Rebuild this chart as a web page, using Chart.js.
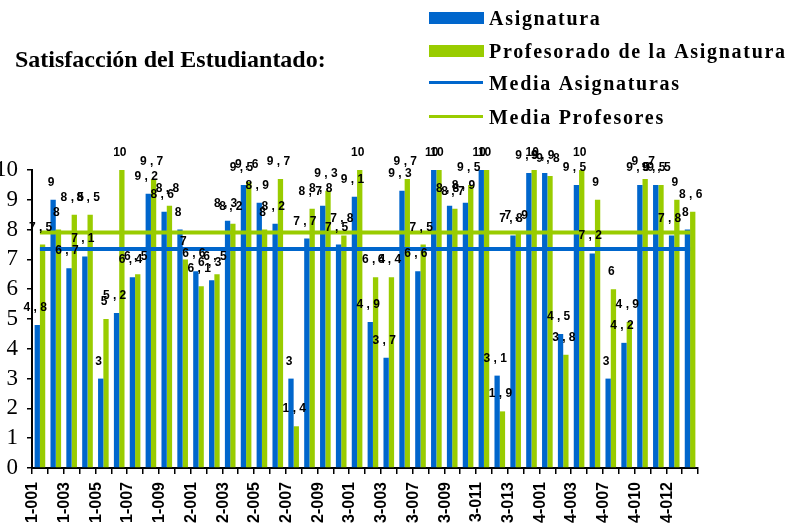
<!DOCTYPE html>
<html>
<head>
<meta charset="utf-8">
<script src="https://cdn.jsdelivr.net/npm/chart.js@4/dist/chart.umd.min.js"></script>
<style>
  body { margin: 0; background: #fff; overflow: hidden; }
  #wrap { position: relative; width: 792px; height: 532px; }
</style>
</head>
<body>
<div id="wrap"><canvas id="myChart"></canvas></div>
<script>
// data
const categorias = [
  '1-001', '1-002', '1-003', '1-004', '1-005', '1-006', '1-007', '1-008', '1-009', '1-010',
  '2-001', '2-002', '2-003', '2-004', '2-005', '2-006', '2-007', '2-008', '2-009', '2-010',
  '3-001', '3-002', '3-003', '3-005', '3-007', '3-008', '3-009', '3-010', '3-011', '3-012', '3-013', '3-014',
  '4-001', '4-002', '4-003', '4-005', '4-007', '4-008', '4-010', '4-011', '4-012', '4-013'
]
const asignatura = [
  4.8, 9, 6.7, 7.1, 3, 5.2, 6.4, 9.2, 8.6, 8,
  6.6, 6.3, 8.3, 9.5, 8.9, 8.2, 3, 7.7, 8.8, 7.5,
  9.1, 4.9, 3.7, 9.3, 6.6, 10, 8.8, 8.9, 10, 3.1, 7.8, 9.9,
  9.9, 4.5, 9.5, 7.2, 3, 4.2, 9.5, 9.5, 7.8, 8
]
const profesorado = [
  7.5, 8, 8.5, 8.5, 5, 10, 6.5, 9.7, 8.8, 7,
  6.1, 6.5, 8.2, 9.6, 8, 9.7, 1.4, 8.7, 9.3, 7.8,
  10, 6.4, 6.4, 9.7, 7.5, 10, 8.7, 9.5, 10, 1.9, 7.9, 10,
  9.8, 3.8, 10, 9, 6, 4.9, 9.7, 9.5, 9, 8.6
]
const mediaAsignaturas = 7.35
const mediaProfesores = 7.9
const yTicks = [0, 1, 2, 3, 4, 5, 6, 7, 8, 9, 10]

const AZUL = '#0066CC'
const VERDE = '#99CC00'
const serif = '"Liberation Serif", "Times New Roman", serif'
const sans = '"Liberation Sans", Arial, sans-serif'

// value labels above every bar, comma as decimal separator
const valueLabels = {
  id: 'valueLabels',
  afterDatasetsDraw(chart) {
    const ctx = chart.ctx
    ctx.save()
    ctx.font = 'bold 12px ' + sans
    ctx.fillStyle = '#000'
    ctx.textAlign = 'center'
    ctx.textBaseline = 'alphabetic'
    ;[0, 1].forEach(di => {
      chart.getDatasetMeta(di).data.forEach((bar, i) => {
        const txt = String(chart.data.datasets[di].data[i]).replace('.', ' , ')
        ctx.fillText(txt, bar.x - 2, bar.y - 14)
      })
    })
    ctx.restore()
  }
}

// title and legend (box for bars, line for the means)
const header = {
  id: 'header',
  afterDraw(chart) {
    const ctx = chart.ctx
    ctx.save()
    ctx.fillStyle = '#000'
    ctx.textAlign = 'left'
    ctx.textBaseline = 'alphabetic'
    ctx.font = 'bold 24px ' + serif
    ctx.fillText('Satisfacción del Estudiantado:', 15, 67)

    ctx.font = 'bold 20px ' + serif
    if ('letterSpacing' in ctx) ctx.letterSpacing = '1.7px'
    const rows = [25, 58, 90, 124]
    chart.data.datasets.forEach((ds, i) => {
      const base = rows[i]
      ctx.fillStyle = ds.borderColor
      if (ds.type === 'line') {
        ctx.fillRect(429, base - 9, 54, 3)
      } else {
        ctx.fillRect(429, base - 13, 55, 12)
      }
      ctx.fillStyle = '#000'
      ctx.fillText(ds.label, 489, base)
    })
    ctx.restore()
  }
}

const ctx = document.getElementById('myChart').getContext('2d')

const chart = new Chart(ctx, {
  type: 'bar',
  data: {
    labels: categorias,
    datasets: [
      {
        label: 'Asignatura',
        data: asignatura,
        backgroundColor: AZUL,
        borderColor: AZUL,
        borderWidth: 0,
        barPercentage: 1,
        categoryPercentage: 0.67,
        order: 2
      },
      {
        label: 'Profesorado de la Asignatura',
        data: profesorado,
        backgroundColor: VERDE,
        borderColor: VERDE,
        borderWidth: 0,
        barPercentage: 1,
        categoryPercentage: 0.67,
        order: 2
      },
      {
        type: 'line',
        label: 'Media Asignaturas',
        data: categorias.map(() => mediaAsignaturas),
        borderColor: AZUL,
        borderWidth: 4,
        pointRadius: 0,
        fill: false,
        order: 1
      },
      {
        type: 'line',
        label: 'Media Profesores',
        data: categorias.map(() => mediaProfesores),
        borderColor: VERDE,
        borderWidth: 4,
        pointRadius: 0,
        fill: false,
        order: 1
      }
    ]
  },
  options: {
    responsive: true,
    maintainAspectRatio: false,
    animation: false,
    events: [],
    layout: { padding: { top: 170, right: 94, left: 0, bottom: 0 } },
    plugins: {
      legend: { display: false },
      title: { display: false },
      tooltip: { enabled: false }
    },
    scales: {
      x: {
        offset: true,
        grid: { offset: true, drawOnChartArea: false, drawTicks: true, tickLength: 6, color: '#000', lineWidth: 1.5 },
        border: { display: true, color: '#000', width: 2 },
        ticks: {
          autoSkip: false,
          minRotation: 90,
          maxRotation: 90,
          padding: 8,
          labelOffset: -7,
          color: '#000',
          font: { family: sans, size: 16, weight: 'bold' },
          callback: (v, i) => (i % 2 === 0 ? categorias[i] : '')
        },
        afterFit: scale => { scale.height = 64 }
      },
      y: {
        min: 0,
        max: 10,
        afterBuildTicks: scale => { scale.ticks = yTicks.map(v => ({ value: v })) },
        grid: { drawOnChartArea: false, drawTicks: true, tickLength: 5, color: '#000', lineWidth: 1.5 },
        border: { display: true, color: '#000', width: 2 },
        ticks: {
          autoSkip: false,
          padding: 9,
          color: '#000',
          font: { family: serif, size: 23 }
        },
        afterFit: scale => { scale.width = 32 }
      }
    }
  },
  plugins: [valueLabels, header]
})
</script>
</body>
</html>
